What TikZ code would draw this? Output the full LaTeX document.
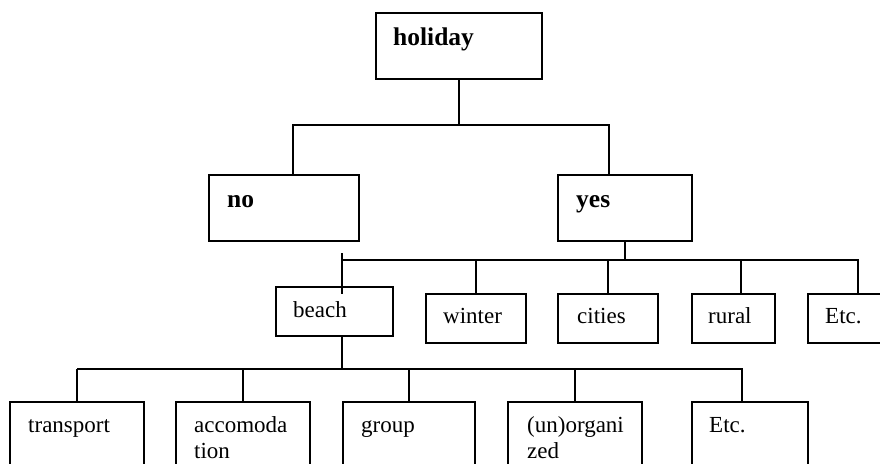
\documentclass[tikz,border=0pt]{standalone}
\usepackage{fontspec}
\setmainfont{Liberation Serif}
\usetikzlibrary{calc}

\begin{document}
\begin{tikzpicture}[x=1pt,y=-1pt,
    box/.style={draw, line width=1.6pt, inner sep=0pt, outer sep=0pt, anchor=north west},
    txt/.style={font=\fontsize{23}{26}\selectfont, align=left, inner sep=0pt, anchor=base west},
    head/.style={txt, font=\fontsize{25.5}{28}\selectfont\bfseries},
    link/.style={line width=1.6pt}]
\clip (0,0) rectangle (880,463);
% level 0 and 1
\node[box, minimum width=166pt, minimum height=66pt] (holiday) at (376,13) {};
\node[box, minimum width=150pt, minimum height=66pt] (no) at (209,175) {};
\node[box, minimum width=134pt, minimum height=66pt] (yes) at (558,175) {};
% level 2
\node[box, minimum width=117pt, minimum height=49pt] (beach) at (276,287) {};
\node[box, minimum width=100pt, minimum height=49pt] (winter) at (426,294) {};
\node[box, minimum width=100pt, minimum height=49pt] (cities) at (558,294) {};
\node[box, minimum width=83pt, minimum height=49pt] (rural) at (692,294) {};
\node[box, minimum width=100pt, minimum height=49pt] (etcA) at (808,294) {};
% level 3
\node[box, minimum width=134pt, minimum height=66pt] (transport) at (10,402) {};
\node[box, minimum width=134pt, minimum height=66pt] (accom) at (176,402) {};
\node[box, minimum width=132pt, minimum height=66pt] (group) at (343,402) {};
\node[box, minimum width=134pt, minimum height=66pt] (unorg) at (508,402) {};
\node[box, minimum width=116pt, minimum height=66pt] (etcB) at (692,402) {};

% texts
\node[head] (holidaytxt) at ([shift={(17,32)}]holiday.north west) {holiday};
\node[head] (notxt) at ([shift={(18,32)}]no.north west) {no};
\node[head] (yestxt) at ([shift={(18,32)}]yes.north west) {yes};
\node[txt] (beachtxt) at ([shift={(17,30)}]beach.north west) {beach};
\node[txt] (wintertxt) at ([shift={(17,29)}]winter.north west) {winter};
\node[txt] (citiestxt) at ([shift={(19,29)}]cities.north west) {cities};
\node[txt] (ruraltxt) at ([shift={(16,29)}]rural.north west) {rural};
\node[txt] (etcAtxt) at ([shift={(17,29)}]etcA.north west) {Etc.};
\node[txt] (transporttxt) at ([shift={(18,30)}]transport.north west) {transport};
\node[txt] (accomtxt) at ([shift={(18,56)}]accom.north west) {accomoda\\tion};
\node[txt] (grouptxt) at ([shift={(18,30)}]group.north west) {group};
\node[txt] (unorgtxt) at ([shift={(19,56)}]unorg.north west) {(un)organi\\zed};
\node[txt] (etcBtxt) at ([shift={(17,30)}]etcB.north west) {Etc.};

% connectors
\coordinate (barAl) at (293,125);
\coordinate (barAr) at (609,125);
\draw[link] (holiday.south) -- (holiday.south |- barAl);
\draw[link] (barAl |- no.north) -- (barAl) -- (barAr) -- (barAr |- yes.north);

\coordinate (barBl) at (342,260);
\coordinate (barBr) at (858,260);
\draw[link] (yes.south) -- (yes.south |- barBl);
\draw[link] (barBl) -- (barBr) -- (barBr |- etcA.north);
\draw[link] ([yshift=7pt]barBl) -- ([yshift=-34pt]barBl);
\foreach \n in {winter,cities}
  \draw[link] (\n.north) -- (\n.north |- barBl);
\draw[link] ([xshift=7.5pt]rural.north) -- ([xshift=7.5pt]rural.north |- barBl);

\coordinate (barCl) at (77,369);
\coordinate (barCr) at (742,369);
\draw[link] (barBl |- beach.south) -- (barBl |- barCl);
\draw[link] (barCl) -- (barCr) -- (barCr |- etcB.north);
\foreach \n in {transport,accom,group,unorg}
  \draw[link] (\n.north) -- (\n.north |- barCl);
\end{tikzpicture}
\end{document}
